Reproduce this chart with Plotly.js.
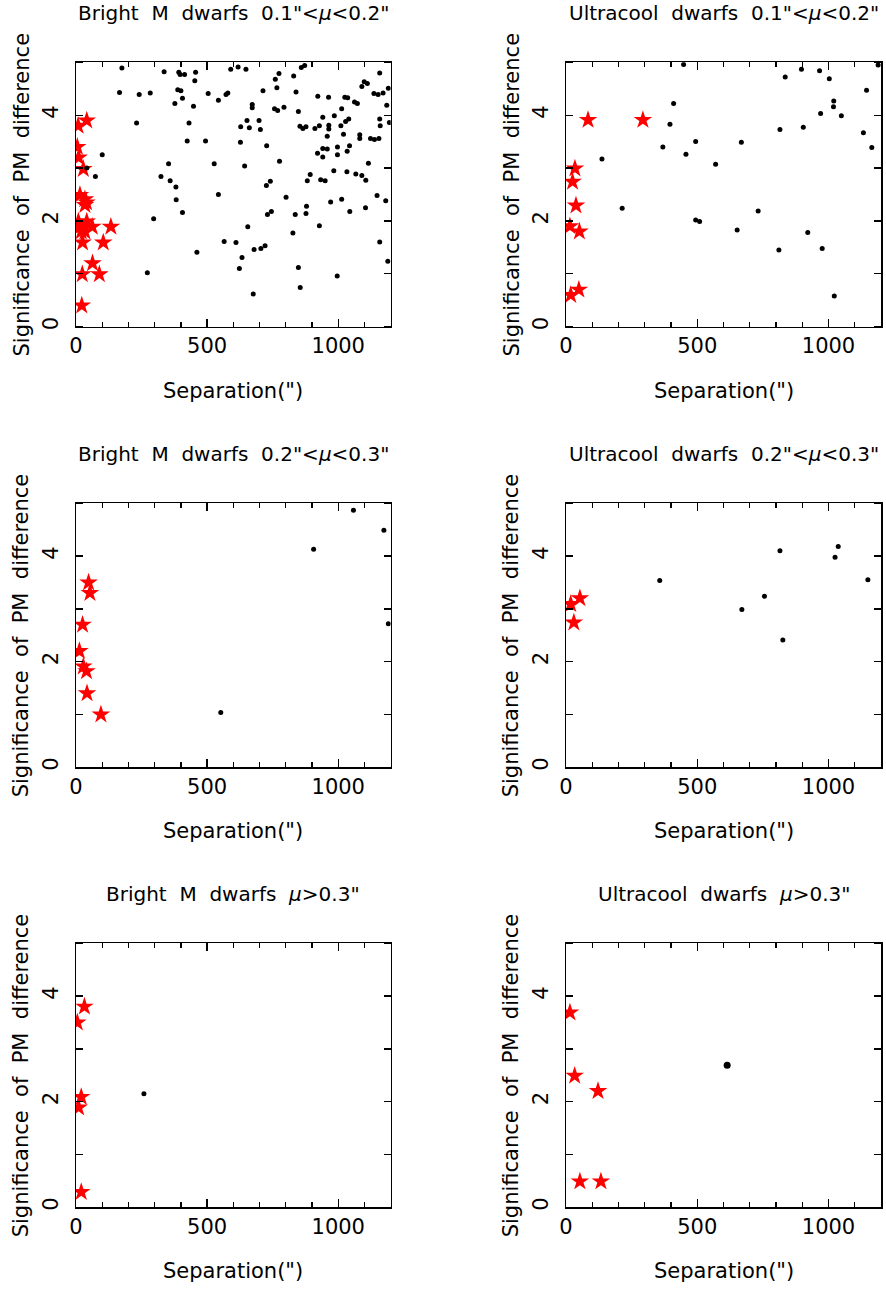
<!DOCTYPE html>
<html>
<head>
<meta charset="utf-8">
<script src="https://cdn.plot.ly/plotly-3.0.1.min.js"></script>
<style>
html,body{margin:0;padding:0;background:#fff;}
#chart{width:886px;height:1289px;}
</style>
</head>
<body>
<div id="chart"></div>
<script>
// ---------- DATA ----------
const panelTitles = [
  "Bright  M  dwarfs  0.1\"<<i>μ</i><0.2\"",
  "Ultracool  dwarfs  0.1\"<<i>μ</i><0.2\"",
  "Bright  M  dwarfs  0.2\"<<i>μ</i><0.3\"",
  "Ultracool  dwarfs  0.2\"<<i>μ</i><0.3\"",
  "Bright  M  dwarfs  <i>μ</i>>0.3\"",
  "Ultracool  dwarfs  <i>μ</i>>0.3\""
];
const xTitle = "Separation(\")";
const yTitle = "Significance  of  PM  difference";
const xTickVals = [0, 500, 1000];
const yTickVals = [0, 2, 4];

// Panel 1: Bright M dwarfs 0.1<mu<0.2
const p1StarX = [41, 8, 5, 10, 28, 15, 34, 40, 34, 9, 41, 15, 28, 62, 34, 20, 133, 25, 104, 63, 24, 89, 22];
const p1StarY = [3.90, 3.80, 3.40, 3.20, 2.98, 2.49, 2.41, 2.35, 2.30, 1.99, 1.99, 1.89, 1.86, 1.89, 1.80, 1.80, 1.89, 1.59, 1.59, 1.20, 0.99, 0.99, 0.40];
const p1DotX = [175, 336, 392, 397, 414, 456, 453, 590, 166, 241, 283, 388, 400, 377, 406, 448, 504, 543, 572, 579,
  231, 431, 424, 494, 100, 353, 527, 41, 74, 324, 359, 381, 543, 382, 406, 296, 461, 272,
  618, 648, 774, 760, 766, 830, 859, 872, 713, 839, 1158, 922, 963, 1025, 1036, 1062, 1073, 1090, 1099, 1111,
  1136, 1152, 1171, 1191, 1185, 672, 672, 757, 769, 793, 848, 652, 628, 661, 698, 703, 854, 865, 877, 911,
  928, 941, 964, 964, 985, 1010, 1013, 1028, 1040, 1020, 958, 1082, 1082, 1123, 1138, 1155, 1158, 1160, 1195,
  627, 727, 941, 958, 921, 941, 997, 997, 1043, 1034, 776, 643, 1115, 893, 882, 933, 950, 983, 1033, 1067,
  1090, 1105, 741, 726, 801, 971, 1013, 1148, 1181, 745, 730, 836, 879, 877, 1044, 1104, 655, 928, 827,
  610, 679, 705, 721, 633, 623, 848, 855, 676, 996, 1158, 1189, 565];
const p1DotY = [4.89, 4.82, 4.81, 4.77, 4.77, 4.81, 4.65, 4.87, 4.43, 4.39, 4.42, 4.48, 4.46, 4.22, 4.32, 4.17, 4.41, 4.28, 4.39, 4.42,
  3.85, 3.85, 3.51, 3.51, 3.25, 3.08, 3.08, 3.00, 2.84, 2.84, 2.76, 2.64, 2.50, 2.40, 2.16, 2.04, 1.41, 1.02,
  4.91, 4.87, 4.79, 4.68, 4.52, 4.74, 4.90, 4.94, 4.46, 4.44, 4.80, 4.36, 4.34, 4.34, 4.33, 4.25, 4.22, 4.54, 4.63, 4.60,
  4.41, 4.39, 4.42, 4.51, 4.19, 4.20, 4.14, 4.12, 4.09, 4.15, 4.07, 3.90, 3.78, 3.76, 3.90, 3.73, 3.79, 3.75, 3.78, 3.75,
  3.80, 3.96, 3.81, 3.74, 3.99, 3.80, 4.12, 3.88, 3.93, 3.64, 3.60, 3.63, 3.56, 3.56, 3.54, 3.56, 3.93, 3.80, 3.86,
  3.49, 3.42, 3.37, 3.36, 3.28, 3.21, 3.40, 3.25, 3.42, 3.32, 3.13, 3.04, 3.09, 2.88, 2.76, 2.78, 2.76, 2.95, 2.93, 2.89,
  2.86, 2.77, 2.75, 2.67, 2.45, 2.36, 2.41, 2.48, 2.38, 2.18, 2.12, 2.12, 2.28, 2.14, 2.18, 2.25, 1.89, 1.91, 1.77,
  1.59, 1.46, 1.48, 1.53, 1.31, 1.10, 1.12, 0.74, 0.62, 0.96, 1.60, 1.24, 1.61];

// Panel 2: Ultracool dwarfs 0.1<mu<0.2
const p2StarX = [84, 293, 34, 25, 38, 15, 51, 49, 18];
const p2StarY = [3.91, 3.91, 2.99, 2.74, 2.29, 1.90, 1.80, 0.70, 0.60];
const p2DotX = [448, 835, 897, 966, 1003, 1189, 1145, 1020, 1019, 410, 970, 1049, 396, 815, 904, 1133, 1165, 369, 494, 668,
  457, 570, 137, 214, 732, 494, 509, 652, 921, 811, 976, 1022];
const p2DotY = [4.96, 4.72, 4.87, 4.84, 4.69, 4.95, 4.47, 4.27, 4.16, 4.22, 4.03, 3.99, 3.83, 3.73, 3.77, 3.67, 3.39, 3.40, 3.50, 3.49,
  3.26, 3.07, 3.17, 2.24, 2.19, 2.02, 1.99, 1.83, 1.78, 1.45, 1.48, 0.58];

// Panel 3: Bright M dwarfs 0.2<mu<0.3
const p3StarX = [48, 53, 25, 13, 28, 40, 42, 95];
const p3StarY = [3.50, 3.30, 2.70, 2.20, 1.91, 1.82, 1.40, 1.00];
const p3DotX = [1058, 1174, 906, 1191, 552];
const p3DotY = [4.87, 4.49, 4.13, 2.72, 1.04];

// Panel 4: Ultracool dwarfs 0.2<mu<0.3
const p4StarX = [18, 53, 30];
const p4StarY = [3.09, 3.20, 2.74];
const p4DotX = [357, 670, 756, 815, 826, 1025, 1037, 1150];
const p4DotY = [3.54, 2.99, 3.24, 4.10, 2.41, 3.98, 4.18, 3.55];

// Panel 5: Bright M dwarfs mu>0.3
const p5StarX = [32, 5, 20, 10, 20];
const p5StarY = [3.80, 3.50, 2.09, 1.89, 0.29];
const p5DotX = [259];
const p5DotY = [2.15];

// Panel 6: Ultracool dwarfs mu>0.3
const p6StarX = [15, 33, 122, 53, 133];
const p6StarY = [3.69, 2.49, 2.20, 0.49, 0.49];
const p6DotX = [614];
const p6DotY = [2.69];

// ---------- LAYOUT ----------
const W = 886, H = 1289;
const colPx = [[76, 390.7], [566, 881]];
const rowPx = [[62.3, 326.7], [503.3, 767.3], [943.3, 1207.3]];
const panels = [
  [p1StarX, p1StarY, p1DotX, p1DotY, 5],
  [p2StarX, p2StarY, p2DotX, p2DotY, 5],
  [p3StarX, p3StarY, p3DotX, p3DotY, 5],
  [p4StarX, p4StarY, p4DotX, p4DotY, 5],
  [p5StarX, p5StarY, p5DotX, p5DotY, 5],
  [p6StarX, p6StarY, p6DotX, p6DotY, 7]
];
const FONT = "DejaVu Sans, Liberation Sans, sans-serif";
const data = [];
const layout = {
  width: W, height: H,
  margin: {l: 0, r: 0, t: 0, b: 0},
  paper_bgcolor: "#fff", plot_bgcolor: "#fff",
  showlegend: false,
  font: {family: FONT, color: "#000"},
  annotations: []
};
panels.forEach((p, i) => {
  const r = Math.floor(i / 2), c = i % 2;
  const n = i + 1;
  const xa = "x" + (n === 1 ? "" : n), ya = "y" + (n === 1 ? "" : n);
  data.push({
    x: p[0], y: p[1], xaxis: xa, yaxis: ya, type: "scatter", mode: "markers",
    marker: {symbol: "star", size: 14, color: "#ff0000", line: {width: 0}}
  });
  data.push({
    x: p[2], y: p[3], xaxis: xa, yaxis: ya, type: "scatter", mode: "markers",
    marker: {symbol: "circle", size: p[4], color: "#000", line: {width: 0}}
  });
  const xd = [colPx[c][0] / W, colPx[c][1] / W];
  const yd = [1 - rowPx[r][1] / H, 1 - rowPx[r][0] / H];
  const axCommon = {
    showline: true, linecolor: "#000", linewidth: 1.5, mirror: "ticks",
    showgrid: false, zeroline: false,
    tickfont: {family: FONT, size: 21, color: "#000"}
  };
  layout["xaxis" + (n === 1 ? "" : n)] = Object.assign({}, axCommon, {
    domain: xd, anchor: ya, range: [0, 1200], tickmode: "array", tickvals: xTickVals,
    ticks: "inside", ticklen: 8, tickwidth: 1.3, tickcolor: "#000",
    minor: {dtick: 100, ticks: "inside", ticklen: 5, tickwidth: 1.3, tickcolor: "#000", showgrid: false}
  });
  layout["yaxis" + (n === 1 ? "" : n)] = Object.assign({}, axCommon, {
    domain: yd, anchor: xa, range: [0, 5], tickmode: "array", tickvals: yTickVals, tickangle: -90,
    ticks: "outside", ticklen: 8, tickwidth: 1, tickcolor: "rgba(0,0,0,0)",
    minor: {dtick: 1, ticks: "inside", ticklen: 7, tickwidth: 1.3, tickcolor: "#000", showgrid: false}
  });
  const cx = (colPx[c][0] + colPx[c][1]) / 2 / W;
  layout.annotations.push({
    xref: "paper", yref: "paper", x: cx, y: 1 - (rowPx[r][0] - 49) / H,
    xanchor: "center", yanchor: "middle", showarrow: false,
    text: panelTitles[i], font: {family: FONT, size: 20, color: "#000"}
  });
  layout.annotations.push({
    xref: "paper", yref: "paper", x: cx, y: 1 - (rowPx[r][1] + 64) / H,
    xanchor: "center", yanchor: "middle", showarrow: false,
    text: xTitle, font: {family: FONT, size: 21, color: "#000"}
  });
  layout.annotations.push({
    xref: "paper", yref: "paper", x: (c === 0 ? 21 : 511) / W, y: 1 - ((rowPx[r][0] + rowPx[r][1]) / 2) / H,
    xanchor: "center", yanchor: "middle", showarrow: false, textangle: -90,
    text: yTitle, font: {family: FONT, size: 21, color: "#000"}
  });
});
Plotly.newPlot("chart", data, layout, {staticPlot: true});
</script>
</body>
</html>
